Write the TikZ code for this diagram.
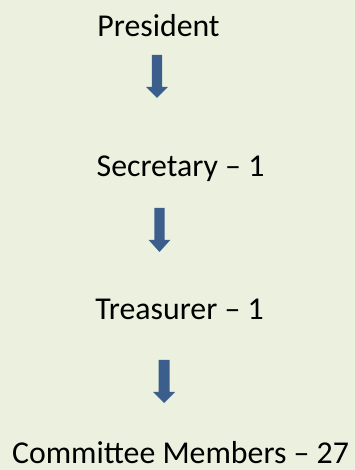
\documentclass[tikz,border=0pt]{standalone}
\usepackage{fontspec}
\setmainfont{Carlito}
\definecolor{bg}{HTML}{EBF1DE}
\definecolor{arrowblue}{HTML}{3B5E8C}
\begin{document}
\begin{tikzpicture}[x=1pt,y=1pt,
  label/.style={font=\fontsize{31.8}{36}\selectfont, inner sep=0pt, anchor=base},
  blockarrow/.style={fill=arrowblue}]
\fill[bg] (0,0) rectangle (355,470);
\useasboundingbox (0,0) rectangle (355,470);
\node[label] (pres) at (158.5,433) {President};
\node[label] (sec) at (180.5,293) {Secretary -- 1};
\node[label] (tre) at (179.5,150) {Treasurer -- 1};
\node[label] (com) at (180.5,6.5) {Committee Members -- 27};
% block arrow: x of centre, top of shaft, shaft half-width, head base, head half-width, tip
\newcommand{\downarrowblock}[6]{%
  \fill[blockarrow] (#1-#3,#2) -- (#1+#3,#2) -- (#1+#3,#4) -- (#1+#5,#4)
    -- (#1,#6) -- (#1-#5,#4) -- (#1-#3,#4) -- cycle;}
\downarrowblock{157}{415}{5.2}{383}{10.8}{372}
\downarrowblock{159.5}{262}{5.2}{230}{10.8}{218}
\downarrowblock{164}{110}{5.5}{78}{11}{67}
\end{tikzpicture}
\end{document}
